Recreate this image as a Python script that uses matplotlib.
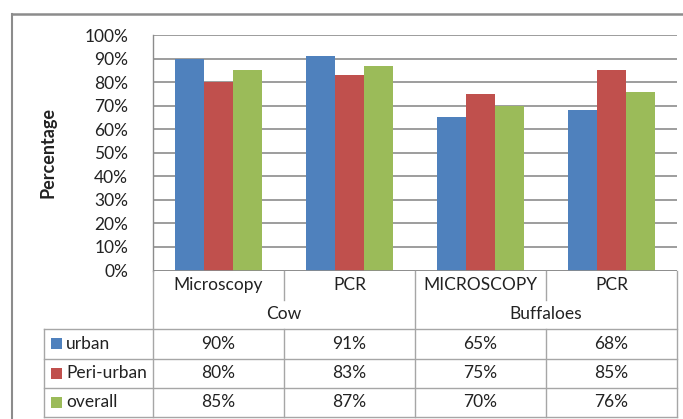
import matplotlib
matplotlib.use("Agg")
import matplotlib.pyplot as plt
from matplotlib.transforms import Affine2D, blended_transform_factory
from matplotlib.lines import Line2D
from matplotlib.patches import Rectangle

# ---- data ----
methods = ["Microscopy", "PCR", "MICROSCOPY", "PCR"]
groups = ["Cow", "Buffaloes"]
series_names = ["urban", "Peri-urban", "overall"]
urban = [90, 91, 65, 68]
peri_urban = [80, 83, 75, 85]
overall = [85, 87, 70, 76]
yticks = [0, 10, 20, 30, 40, 50, 60, 70, 80, 90, 100]
colors = ["#4F81BD", "#C0504D", "#9BBB59"]

W, H = 683, 419
plt.rcParams['font.family'] = ['Lato', 'DejaVu Sans']
TXT = "#222222"
GRID = "#8c8c8c"
TBL = "#a6a6a6"
FS = 12.5

fig = plt.figure(figsize=(W / 100, H / 100), dpi=100)
pix = Affine2D().scale(1 / W, -1 / H).translate(0, 1) + fig.transFigure

ax_left, ax_right, ax_top, ax_bot = 153, 677, 35, 270.5
ax = fig.add_axes([ax_left / W, 1 - ax_bot / H, (ax_right - ax_left) / W, (ax_bot - ax_top) / H])

series = [urban, peri_urban, overall]
bw = 0.223
for i, vals in enumerate(series):
    xs = [k + (i - 1) * bw for k in range(len(methods))]
    ax.bar(xs, vals, width=bw, color=colors[i], zorder=3, linewidth=0)

ax.set_xlim(-0.5, len(methods) - 0.5)
ax.set_ylim(0, 100)
ax.set_yticks(yticks)
ax.set_yticklabels([f"{t}%" for t in yticks], fontsize=FS, color=TXT)
ax.tick_params(axis='y', length=0, pad=18)
ax.set_xticks([])
ax.grid(axis='y', color=GRID, linewidth=1.2, zorder=0)
for s in ["top", "right", "bottom"]:
    ax.spines[s].set_visible(False)
ax.spines["left"].set_color(GRID)
ax.spines["left"].set_linewidth(1.0)

# y label
fig.text(48, 152, "Percentage", transform=pix, rotation=90, ha='center', va='center',
         fontsize=13, fontweight='bold', color=TXT)

# ---- table under the axis ----
bt = blended_transform_factory(ax.transData, pix)
n = len(methods)
y_axis = 270.5
y_row1_mid = 285
y_row2_mid = 314
y_tbl_top = 329.3
row_h = 29.2


def hline(x0, x1, y, tr=pix, color=TBL):
    fig.add_artist(Line2D([x0, x1], [y, y], transform=tr, color=color, linewidth=1.0))


def vline(x, y0, y1, tr=bt, color=TBL):
    fig.add_artist(Line2D([x, x], [y0, y1], transform=tr, color=color, linewidth=1.0))


# category axis line
ax.axhline(0, color=GRID, linewidth=1.2, zorder=4)

# category labels
for k, m in enumerate(methods):
    fig.text(k, y_row1_mid, m, transform=bt, ha='center', va='center', fontsize=FS, color=TXT)
for k in range(1, n):
    xb = k - 0.5
    if k == n // 2:
        vline(xb, y_axis, y_tbl_top + 3 * row_h)
    else:
        vline(xb, y_axis, 300)
# group labels
per = n // len(groups)
for g, name in enumerate(groups):
    xc = g * per + (per - 1) / 2
    fig.text(xc, y_row2_mid, name, transform=bt, ha='center', va='center', fontsize=FS, color=TXT)

# left axis line extended, right edge
vline(-0.5, y_axis, y_tbl_top + 3 * row_h)
vline(n - 0.5, y_axis, y_tbl_top + 3 * row_h)

# data table rows
x_tbl_left = 44
for r in range(len(series) + 1):
    hline(x_tbl_left, ax_right, y_tbl_top + r * row_h)
vline(x_tbl_left, y_tbl_top, y_tbl_top + 3 * row_h, tr=pix)
for k in range(1, n):
    if k != n // 2:
        vline(k - 0.5, y_tbl_top, y_tbl_top + 3 * row_h)

for r, (name, vals) in enumerate(zip(series_names, series)):
    yc = y_tbl_top + (r + 0.5) * row_h
    fig.add_artist(Rectangle((51, yc - 5.5), 11, 11, transform=pix, facecolor=colors[r],
                             edgecolor='none'))
    fig.text(66, yc, name, transform=pix, ha='left', va='center', fontsize=FS, color=TXT)
    for k, v in enumerate(vals):
        fig.text(k, yc, f"{v}%", transform=bt, ha='center', va='center', fontsize=FS, color=TXT)

# outer frame
fig.add_artist(Line2D([12, W], [14, 14], transform=pix, color=GRID, linewidth=1.8))
fig.add_artist(Line2D([12, 12], [14, H], transform=pix, color=GRID, linewidth=1.5))

fig.savefig("out.png", dpi=100)
